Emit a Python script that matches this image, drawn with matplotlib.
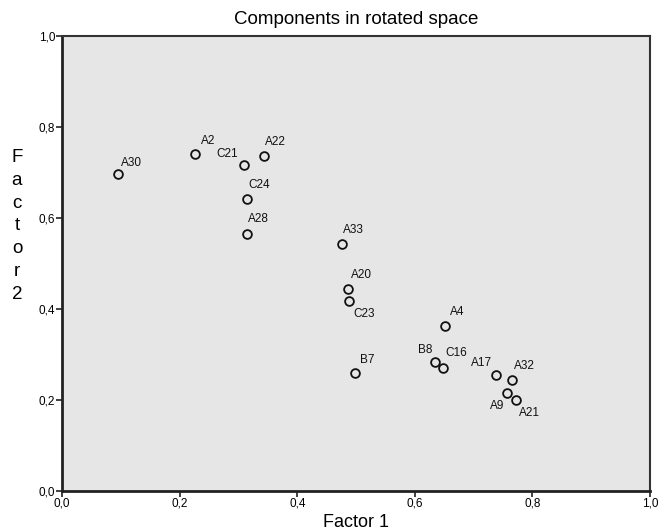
import matplotlib.pyplot as plt

# Component loadings
labels = ["A30", "A2", "C21", "A22", "C24", "A28", "A33", "A20", "C23",
          "B7", "A4", "B8", "C16", "A17", "A32", "A9", "A21"]
factor1 = [0.095, 0.226, 0.309, 0.343, 0.314, 0.314, 0.476, 0.487, 0.488,
           0.499, 0.652, 0.635, 0.647, 0.738, 0.766, 0.757, 0.772]
factor2 = [0.696, 0.741, 0.716, 0.736, 0.641, 0.566, 0.543, 0.444, 0.418,
           0.259, 0.362, 0.284, 0.271, 0.254, 0.243, 0.216, 0.200]

ticks = [0.0, 0.2, 0.4, 0.6, 0.8, 1.0]
tick_labels = ["0,0", "0,2", "0,4", "0,6", "0,8", "1,0"]

# label placement: (dx, dy in points, ha, va)
placement = {
    "A30": (2, 4, "left", "bottom"),
    "A2": (4, 5, "left", "bottom"),
    "C21": (-4, 4, "right", "bottom"),
    "A22": (1, 6, "left", "bottom"),
    "C24": (1, 6, "left", "bottom"),
    "A28": (1, 6, "left", "bottom"),
    "A33": (1, 6, "left", "bottom"),
    "A20": (2, 6, "left", "bottom"),
    "C23": (3, -5, "left", "top"),
    "B7": (3, 5, "left", "bottom"),
    "A4": (3, 6, "left", "bottom"),
    "B8": (-2, 4, "right", "bottom"),
    "C16": (2, 6, "left", "bottom"),
    "A17": (-3, 5, "right", "bottom"),
    "A32": (1, 6, "left", "bottom"),
    "A9": (-2, -5, "right", "top"),
    "A21": (2, -5, "left", "top"),
}

plt.rcParams['font.family'] = ['Liberation Sans', 'DejaVu Sans']

fig = plt.figure(figsize=(6.62, 5.31), dpi=100)
ax = fig.add_axes([0.0937, 0.0753, 0.8883, 0.8567])
ax.set_facecolor("#e6e6e6")

ax.plot(factor1, factor2, linestyle="none", marker="o", markersize=6.3,
        markerfacecolor="none", markeredgecolor="#111111", markeredgewidth=1.3)

for name, x, y in zip(labels, factor1, factor2):
    dx, dy, ha, va = placement[name]
    ax.annotate(name, (x, y), xytext=(dx, dy), textcoords="offset points",
                ha=ha, va=va, fontsize=8.5, color="#111111")

ax.set_xlim(0, 1)
ax.set_ylim(0, 1)
ax.set_xticks(ticks)
ax.set_xticklabels(tick_labels, fontsize=8.5)
ax.set_yticks(ticks)
ax.set_yticklabels(tick_labels, fontsize=8.5)
ax.tick_params(direction="out", length=4, width=1.2, pad=1, color="#222222")

for side in ["left", "bottom"]:
    ax.spines[side].set_linewidth(2)
    ax.spines[side].set_color("#222222")
for side in ["top", "right"]:
    ax.spines[side].set_linewidth(1.5)
    ax.spines[side].set_color("#333333")

ax.set_title("Components in rotated space", fontsize=13.5, pad=9)
ax.set_xlabel("Factor 1", fontsize=13, labelpad=3)
fig.text(17 / 662, 1 - 226 / 531, "F\na\nc\nt\no\nr\n2", fontsize=13.5,
         ha="center", va="center", multialignment="center", linespacing=1.45)

fig.savefig("out.png", dpi=100)
